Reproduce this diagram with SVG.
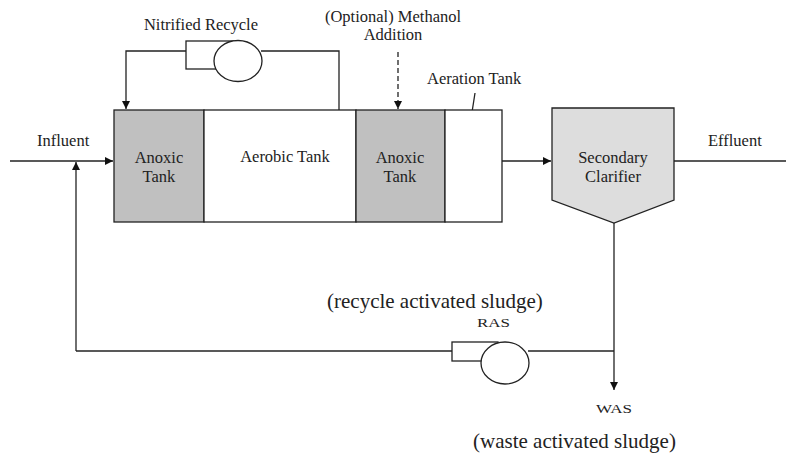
<svg xmlns="http://www.w3.org/2000/svg" width="786" height="459" viewBox="0 0 786 459">
<defs>
<marker id="ah" viewBox="0 0 10 10" refX="10" refY="5" markerWidth="8" markerHeight="8" markerUnits="userSpaceOnUse" orient="auto"><path d="M0,0 L10,5 L0,10 z" fill="#111"/></marker>
<style>
text{font-family:"Liberation Serif","Times New Roman",serif;fill:#222;font-size:16.5px}
.c{text-anchor:middle}
.big{font-size:21px}
.sm{font-size:13px}
.ln{fill:none;stroke:#222;stroke-width:1.3}
.box{stroke:#222;stroke-width:1.3}
</style>
</defs>
<rect width="786" height="459" fill="#fff"/>
<g id="connectors">
<path class="ln" d="M10,161 H113" marker-end="url(#ah)"/>
<path class="ln" d="M76,351 V162" marker-end="url(#ah)"/>
<path class="ln" d="M76,351 H452"/>
<path class="ln" d="M528,351 H614"/>
<path class="ln" d="M614,223 V390" marker-end="url(#ah)"/>
<path class="ln" d="M502,161 H551" marker-end="url(#ah)"/>
<path class="ln" d="M674,161 H786"/>
<path class="ln" d="M186,51 H126 V109" marker-end="url(#ah)"/>
<path class="ln" d="M261,51 H339 V110"/>
<path class="ln" d="M398,52 V109" stroke-dasharray="5,3" marker-end="url(#ah)"/>
<path class="ln" d="M475,93 L470,125"/>
</g>
<g id="pump-nitrified">
<rect class="box" x="186" y="41" width="48" height="28" fill="#fff"/>
<ellipse class="box" cx="238" cy="61" rx="24" ry="20.5" fill="#fff"/>
</g>
<g id="pump-ras">
<rect class="box" x="452" y="342" width="46" height="19" fill="#fff"/>
<ellipse class="box" cx="505" cy="363" rx="24" ry="21" fill="#fff"/>
</g>
<g id="anoxic1">
<rect class="box" x="114" y="110" width="90" height="112" fill="#c0c0c0"/>
<text class="c" x="159" y="163">Anoxic</text>
<text class="c" x="159" y="182">Tank</text>
</g>
<g id="aerobic">
<rect class="box" x="204" y="110" width="152" height="112" fill="#fff"/>
<text class="c" x="285" y="162">Aerobic Tank</text>
</g>
<g id="anoxic2">
<rect class="box" x="356" y="110" width="89" height="112" fill="#c0c0c0"/>
<text class="c" x="400" y="163">Anoxic</text>
<text class="c" x="400" y="182">Tank</text>
</g>
<g id="aeration">
<rect class="box" x="445" y="110" width="57" height="112" fill="#fff"/>
<text x="427" y="84">Aeration Tank</text>
</g>
<g id="clarifier">
<path class="box" d="M552,108 H674 V200 L614,223 L552,200 Z" fill="#dddddd"/>
<text class="c" x="613" y="163">Secondary</text>
<text class="c" x="613" y="182">Clarifier</text>
</g>
<g id="labels">
<text x="37" y="146">Influent</text>
<text x="708" y="146">Effluent</text>
<text class="c" x="201" y="30">Nitrified Recycle</text>
<text class="c" x="393" y="22">(Optional) Methanol</text>
<text class="c" x="393" y="40">Addition</text>
<text class="big" x="327" y="308">(recycle activated sludge)</text>
<text class="sm" x="477" y="327" textLength="33" lengthAdjust="spacingAndGlyphs">RAS</text>
<text class="sm" x="596" y="413" textLength="36" lengthAdjust="spacingAndGlyphs">WAS</text>
<text class="big" x="473" y="448">(waste activated sludge)</text>
</g>
</svg>
